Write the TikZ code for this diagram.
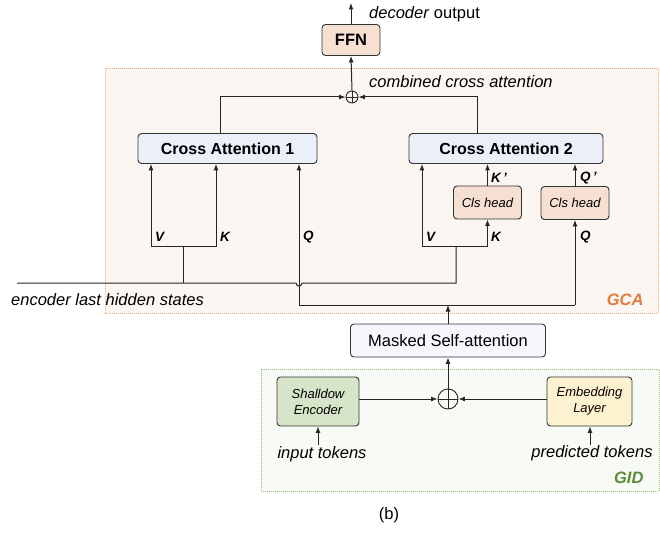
\documentclass[tikz,border=0pt]{standalone}
\usepackage{fontspec}
\setmainfont{Liberation Sans}
\usetikzlibrary{arrows.meta}
\usetikzlibrary{shapes}

\definecolor{gcafill}{HTML}{FBF6F2}
\definecolor{gcaline}{HTML}{E9A877}
\definecolor{gcatext}{HTML}{E07D3C}
\definecolor{gidfill}{HTML}{F8FAF5}
\definecolor{gidline}{HTML}{93BC70}
\definecolor{gidtext}{HTML}{5E8C3A}
\definecolor{peach}{HTML}{F6E0D2}
\definecolor{attnblue}{HTML}{EAEFFA}
\definecolor{lavender}{HTML}{F7F6FC}
\definecolor{shallowgreen}{HTML}{D6E5C8}
\definecolor{embedyellow}{HTML}{FDF2D0}

\begin{document}
\begin{tikzpicture}[x=1pt, y=-1pt,
  font=\fontsize{16.5}{19}\selectfont,
  box/.style={draw=black!80, line width=0.9pt, rounded corners=3.5pt, inner sep=0pt, align=center},
  attn/.style={box, fill=attnblue, font=\fontsize{16}{19}\selectfont\bfseries, minimum height=30pt},
  head/.style={box, fill=peach, font=\fontsize{13}{15}\selectfont\itshape, minimum width=68pt, minimum height=33pt},
  lbl/.style={anchor=west, inner sep=0pt, font=\fontsize{13.5}{15}\selectfont\bfseries\itshape},
  wire/.style={line width=1pt, draw=black!85},
  arr/.style={wire, -{Latex[length=6.5pt, width=5pt]}},
  sum/.style={circle, draw=black!85, line width=0.9pt, inner sep=0pt, minimum size=#1}]

\useasboundingbox (0,0) rectangle (660,534);

%%% GCA and GID regions %%%
\draw[gcaline, fill=gcafill, line width=0.8pt, dash pattern=on 1pt off 1pt] (105,68) rectangle (658,313);
\draw[gidline, fill=gidfill, line width=0.8pt, dash pattern=on 1pt off 1pt] (261,369) rectangle (659,491);
\node[anchor=east, text=gcatext, font=\fontsize{16.5}{19}\selectfont\bfseries\itshape] (gca) at (647,300) {GCA};
\node[anchor=east, text=gidtext, font=\fontsize{16.5}{19}\selectfont\bfseries\itshape] (gid) at (647,478) {GID};

%%% blocks %%%
\node[box, fill=peach, font=\fontsize{16.5}{19}\selectfont\bfseries, minimum width=58pt, minimum height=31pt] (ffn) at (351,40) {FFN};
\node[attn, minimum width=179pt] (ca1) at (227.5,148.5) {Cross Attention 1};
\node[attn, minimum width=194pt] (ca2) at (506,148.5) {Cross Attention 2};
\node[head] (cls1) at (487.5,202.5) {Cls head};
\node[head] (cls2) at (575,203) {Cls head};
\node[box, fill=lavender, minimum width=195pt, minimum height=33pt] (msa) at (448,340.5) {Masked Self-attention};
\node[box, fill=shallowgreen, font=\fontsize{13}{16}\selectfont\itshape, minimum width=82pt, minimum height=49pt] (shallow) at (318,401.5) {Shalldow\\Encoder};
\node[box, fill=embedyellow, font=\fontsize{13}{16}\selectfont\itshape, minimum width=85pt, minimum height=49pt] (embed) at (589.5,401.5) {Embedding\\Layer};

\node[sum=12pt] (sum1) at (352,97) {};
\draw[wire, line width=0.9pt] (sum1.north) -- (sum1.south) (sum1.west) -- (sum1.east);
\node[sum=20pt] (sum2) at (448,399) {};
\draw[wire, line width=0.9pt] (sum2.north) -- (sum2.south) (sum2.west) -- (sum2.east);

%%% texts %%%
\node[anchor=west, inner sep=0pt] (dec) at (369,14) {\textit{decoder} output};
\node[anchor=west, inner sep=0pt, font=\fontsize{16.5}{19}\selectfont\itshape] (comb) at (369,82) {combined cross attention};
\node[anchor=west, inner sep=0pt, font=\fontsize{16.5}{19}\selectfont\itshape] (enctext) at (11,300) {encoder last hidden states};
\node[inner sep=0pt, font=\fontsize{16.5}{19}\selectfont\itshape] (inp) at (322,454) {input tokens};
\node[inner sep=0pt, font=\fontsize{16.5}{19}\selectfont\itshape] (pred) at (592,453) {predicted tokens};
\node[inner sep=0pt] (cap) at (389,515) {(b)};

%% labels
\node[lbl] (lv1) at (155,237) {V};
\node[lbl] (lk1) at (220,237) {K};
\node[lbl] (lq1) at (303,237) {Q};
\node[lbl] (lv2) at (426,237) {V};
\node[lbl] (lk2) at (491,237) {K};
\node[lbl] (lk3) at (491,178) {K\,'};
\node[lbl] (lq3) at (580,178) {Q\,'};
\node[lbl] (lq2) at (580,237) {Q};

%%% connectors %%%
\coordinate (out) at (351,3);
\coordinate (v1) at (151,247);
\coordinate (k1) at (216,247);
\coordinate (j1) at (183,283);
\coordinate (q1) at (299,305);
\coordinate (enc) at (17,283);
\coordinate (hop) at (299,283);
\coordinate (e2) at (456,283);
\coordinate (v2) at (422,247);
\coordinate (k2) at (487.5,247);
\coordinate (q2) at (575,305);
\coordinate (in1) at (318,445);
\coordinate (in2) at (590,445);

\draw[arr] (ffn.north) -- (out);
\draw[arr] (sum1.north) -- (ffn.south);
\draw[arr] ([xshift=-7pt]ca1.north) |- (sum1.west);
\draw[arr] ([xshift=-29pt]ca2.north) |- (sum1.east);

%% cross attention 1
\draw[wire] (v1) -- (k1);
\draw[arr] (v1) -- (v1 |- ca1.south);
\draw[arr] (k1) -- (k1 |- ca1.south);
\draw[wire] (j1) -- (j1 |- v1);
\draw[wire] (enc) -- ([xshift=-3pt]hop) arc[start angle=180, end angle=360, radius=3pt] -- (e2) -- (e2 |- v2);
\draw[arr] (q1) -- (q1 |- ca1.south);

%% cross attention 2
\draw[wire] (v2) -- (k2);
\draw[arr] (v2) -- (v2 |- ca2.south);
\draw[arr] (k2) -- (cls1.south);
\draw[arr] (cls1.north) -- (cls1.north |- ca2.south);
\draw[arr] (cls2.north) -- (cls2.north |- ca2.south);
\draw[wire] (q1) -- (q2);
\draw[arr] (q2) -- (cls2.south);
\draw[arr] (msa.north) -- (msa.north |- q1);

%% GID
\draw[arr] (shallow.east |- sum2) -- (sum2.west);
\draw[arr] (embed.west |- sum2) -- (sum2.east);
\draw[arr] (sum2.north) -- (msa.south);
\draw[arr] (in1) -- (in1 |- shallow.south);
\draw[arr] (in2) -- (in2 |- embed.south);

\end{tikzpicture}
\end{document}
